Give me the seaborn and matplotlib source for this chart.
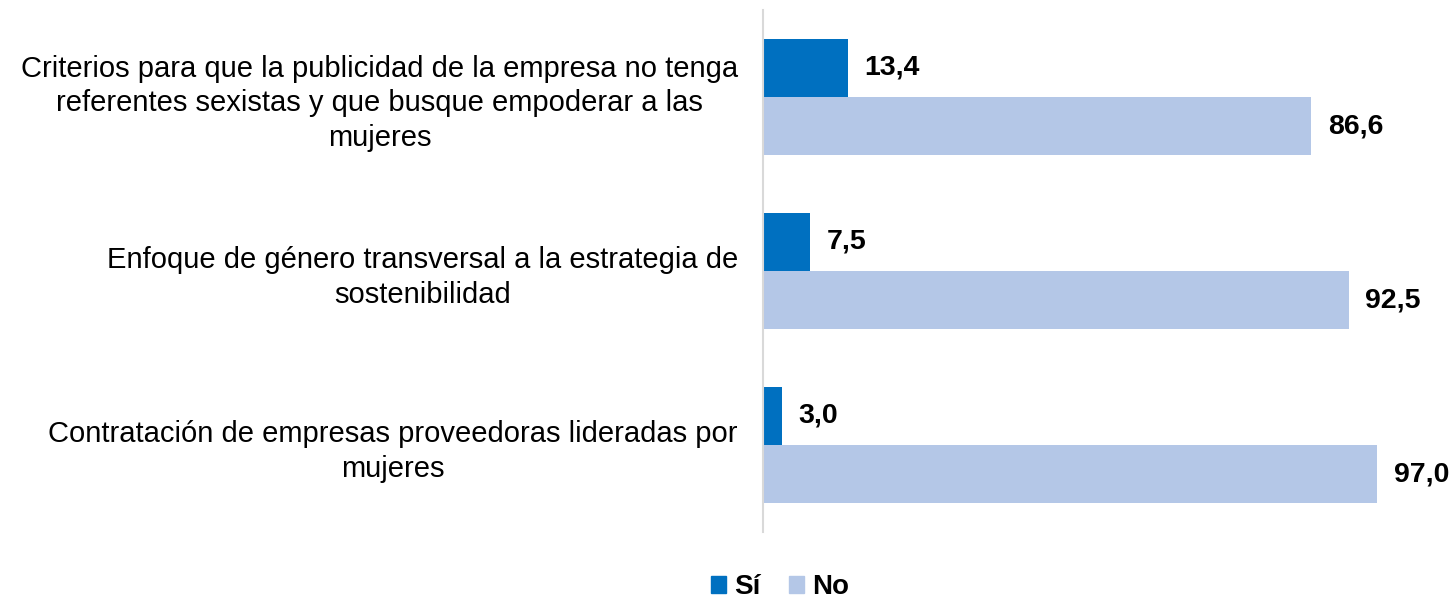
import pandas as pd
import seaborn as sns
import matplotlib.pyplot as plt
from matplotlib.patches import Patch

# datos
categorias = [
    "Criterios para que la publicidad de la empresa no tenga\nreferentes sexistas y que busque empoderar a las\nmujeres",
    "Enfoque de género transversal a la estrategia de\nsostenibilidad",
    "Contratación de empresas proveedoras lideradas por\nmujeres",
]
si = [13.4, 7.5, 3.0]
no = [86.6, 92.5, 97.0]
series = ["Sí", "No"]
colores = ["#0070C0", "#B4C7E7"]

df = pd.DataFrame({
    "categoria": categorias * 2,
    "respuesta": ["Sí"] * 3 + ["No"] * 3,
    "valor": si + no,
})

sns.set_style("white")
plt.rcParams["font.family"] = ["Liberation Sans", "DejaVu Sans"]
plt.rcParams["text.color"] = "black"
plt.rcParams["ytick.color"] = "black"

fig = plt.figure(figsize=(14.55, 6), dpi=100)
ax = fig.add_axes([763 / 1455, 1 - 532 / 600, 1 - 763 / 1455, 522 / 600])

sns.barplot(data=df, y="categoria", x="valor", hue="respuesta", hue_order=series,
            palette=colores, orient="h", width=0.667, saturation=1, linewidth=0,
            ax=ax, legend=False)

for cont in ax.containers:
    ax.bar_label(cont, labels=[f"{v:.1f}".replace(".", ",") for v in cont.datavalues],
                 padding=12, fontsize=20.5, fontweight="bold", color="black")

ax.set_xlim(0, 109.3)
ax.set_ylim(2.5, -0.5)
ax.set_xlabel("")
ax.set_ylabel("")
ax.set_xticks([])
ax.set_yticks(range(3))
ax.set_yticklabels(categorias, fontsize=21, multialignment="center", linespacing=1.3)
ax.tick_params(axis="y", length=0, pad=18, labelcolor="black")
for s in ["top", "right", "bottom"]:
    ax.spines[s].set_visible(False)
ax.spines["left"].set_color("#D9D9D9")
ax.spines["left"].set_linewidth(1.5)

handles = [Patch(color=c, label=s) for s, c in zip(series, colores)]
fig.legend(handles=handles, loc="center", bbox_to_anchor=(780 / 1455, 13 / 600), ncol=2,
           frameon=False, handlelength=0.55, handleheight=0.55, handletextpad=0.3,
           columnspacing=1.0, prop={"size": 20, "weight": "bold"})

fig.savefig("out.png", dpi=100)
